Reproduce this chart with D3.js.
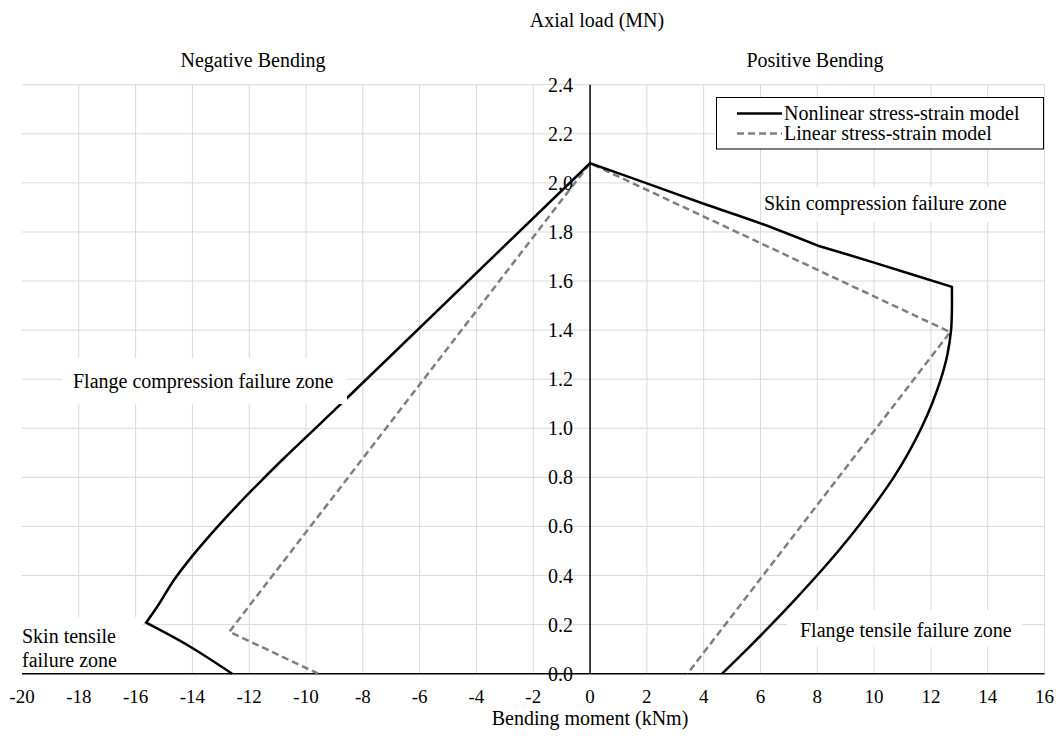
<!DOCTYPE html>
<html>
<head>
<meta charset="utf-8">
<script src="https://cdn.jsdelivr.net/npm/d3@7"></script>
<style>
  body { margin: 0; background: #fff; }
  svg text { font-family: "Liberation Serif", "Times New Roman", serif; font-size: 20px; fill: #000; }
</style>
</head>
<body>
<div id="chart"></div>
<script>
// axis ticks
var xTicks = [-20, -18, -16, -14, -12, -10, -8, -6, -4, -2, 0, 2, 4, 6, 8, 10, 12, 14, 16];
var yTicks = [0, 0.2, 0.4, 0.6, 0.8, 1.0, 1.2, 1.4, 1.6, 1.8, 2.0, 2.2, 2.4];

// Nonlinear stress-strain model (bending moment kNm, axial load MN)
var nonlinearM = [-12.6, -14.15, -15.63, -15.2, -14.66, -14.0, -13.26, -12.47, -11.63, -10.76, -9.85, -8.9, -8.72,
  0, 2, 4, 6, 8, 10, 12.74, 12.74, 12.71, 12.58, 12.35, 12.04, 11.66, 11.21, 10.69, 10.09, 9.44, 8.74, 7.99, 7.2, 6.38, 5.53, 4.65];
var nonlinearN = [0, 0.115, 0.208, 0.28, 0.38, 0.48, 0.58, 0.68, 0.78, 0.88, 0.98, 1.085, 1.105,
  2.08, 1.998, 1.915, 1.835, 1.745, 1.675, 1.576, 1.48, 1.4, 1.3, 1.2, 1.1, 1.0, 0.9, 0.8, 0.7, 0.6, 0.5, 0.4, 0.3, 0.2, 0.1, 0];
// points where the nonlinear envelope has a corner
var nonlinearCorners = [2, 12, 13, 17, 19];

// Linear stress-strain model
var linearM = [-9.57, -12.7, 0, 12.68, 3.43];
var linearN = [0, 0.171, 2.08, 1.392, 0];

var width = 1062, height = 736;

var svg = d3.select("#chart").append("svg")
  .attr("width", width)
  .attr("height", height)
  .attr("font-family", "Liberation Serif");

var x = d3.scaleLinear().domain([-20, 16]).range([22, 1044.5]);
var y = d3.scaleLinear().domain([0, 2.4]).range([673.7, 84.7]);

// gridlines
svg.append("g")
  .selectAll("line")
  .data(xTicks.filter(function(d) { return d != 0 && d != -20; }))
  .enter().append("line")
  .attr("x1", function(d) { return x(d); })
  .attr("x2", function(d) { return x(d); })
  .attr("y1", y(0))
  .attr("y2", y(2.4))
  .attr("stroke", "#d9d9d9")
  .attr("stroke-width", 1);

svg.append("g")
  .selectAll("line")
  .data(yTicks.filter(function(d) { return d != 0; }))
  .enter().append("line")
  .attr("x1", x(-20))
  .attr("x2", x(16))
  .attr("y1", function(d) { return y(d); })
  .attr("y2", function(d) { return y(d); })
  .attr("stroke", "#d9d9d9")
  .attr("stroke-width", 1);

// axes lines through zero
svg.append("line")
  .attr("x1", x(-20)).attr("x2", x(16))
  .attr("y1", y(0)).attr("y2", y(0))
  .attr("stroke", "#000").attr("stroke-width", 1.5);
svg.append("line")
  .attr("x1", x(0)).attr("x2", x(0))
  .attr("y1", y(0)).attr("y2", y(2.4))
  .attr("stroke", "#000").attr("stroke-width", 1.5);

// x tick labels
svg.append("g")
  .selectAll("text")
  .data(xTicks)
  .enter().append("text")
  .attr("x", function(d) { return x(d); })
  .attr("y", 703)
  .attr("text-anchor", "middle")
  .style("font-size", "19px")
  .text(function(d) { return d; });

// curves
var line = d3.line()
  .x(function(d) { return x(d[0]); })
  .y(function(d) { return y(d[1]); });
var smooth = d3.line()
  .x(function(d) { return x(d[0]); })
  .y(function(d) { return y(d[1]); })
  .curve(d3.curveCatmullRom.alpha(0.5));

svg.append("path")
  .datum(d3.zip(linearM, linearN))
  .attr("d", line)
  .attr("fill", "none")
  .attr("stroke", "#7f7f7f")
  .attr("stroke-width", 2.5)
  .attr("stroke-dasharray", "7,4");

// nonlinear envelope: smooth between corners, sharp at corners
var pts = d3.zip(nonlinearM, nonlinearN);
var cuts = [0].concat(nonlinearCorners, [pts.length - 1]);
var d = "";
for (var i = 0; i < cuts.length - 1; i++) {
  var seg = smooth(pts.slice(cuts[i], cuts[i + 1] + 1));
  d += i == 0 ? seg : "L" + seg.slice(1);
}
svg.append("path")
  .attr("d", d)
  .attr("fill", "none")
  .attr("stroke", "#000")
  .attr("stroke-width", 2.5)
  .attr("stroke-linejoin", "miter");

// zone labels with white boxes
function zoneLabel(box, lines) {
  svg.append("rect")
    .attr("x", box[0]).attr("y", box[1])
    .attr("width", box[2]).attr("height", box[3])
    .attr("fill", "#fff");
  lines.forEach(function(l) {
    svg.append("text")
      .attr("x", l[0]).attr("y", l[1])
      .text(l[2]);
  });
}
zoneLabel([762, 187, 253, 35], [[764, 210, "Skin compression failure zone"]]);
zoneLabel([62, 358, 285, 46], [[73, 388, "Flange compression failure zone"]]);
zoneLabel([22, 617, 120, 56], [[22, 643, "Skin tensile"], [22, 667, "failure zone"]]);
zoneLabel([787, 610, 235, 37], [[800, 637, "Flange tensile failure zone"]]);

// y tick labels
svg.append("g")
  .selectAll("text")
  .data(yTicks)
  .enter().append("text")
  .attr("x", 573)
  .attr("y", function(d) { return y(d) + 7; })
  .attr("text-anchor", "end")
  .text(function(d) { return d3.format(".1f")(d); });

// titles
svg.append("text").attr("x", 597).attr("y", 27).attr("text-anchor", "middle").text("Axial load (MN)");
svg.append("text").attr("x", 253).attr("y", 67).attr("text-anchor", "middle").text("Negative Bending");
svg.append("text").attr("x", 815).attr("y", 67).attr("text-anchor", "middle").text("Positive Bending");
svg.append("text").attr("x", 590).attr("y", 725).attr("text-anchor", "middle").text("Bending moment (kNm)");

// legend
var legend = svg.append("g");
legend.append("rect")
  .attr("x", 716.5).attr("y", 97.5)
  .attr("width", 327).attr("height", 51.5)
  .attr("fill", "#fff").attr("stroke", "#000").attr("stroke-width", 1);
legend.append("line")
  .attr("x1", 737).attr("x2", 782).attr("y1", 113.5).attr("y2", 113.5)
  .attr("stroke", "#000").attr("stroke-width", 2.5);
legend.append("text").attr("x", 784).attr("y", 120).text("Nonlinear stress-strain model");
legend.append("line")
  .attr("x1", 737).attr("x2", 782).attr("y1", 133.5).attr("y2", 133.5)
  .attr("stroke", "#7f7f7f").attr("stroke-width", 2.5).attr("stroke-dasharray", "7,4");
legend.append("text").attr("x", 784).attr("y", 140).text("Linear stress-strain model");
</script>
</body>
</html>
